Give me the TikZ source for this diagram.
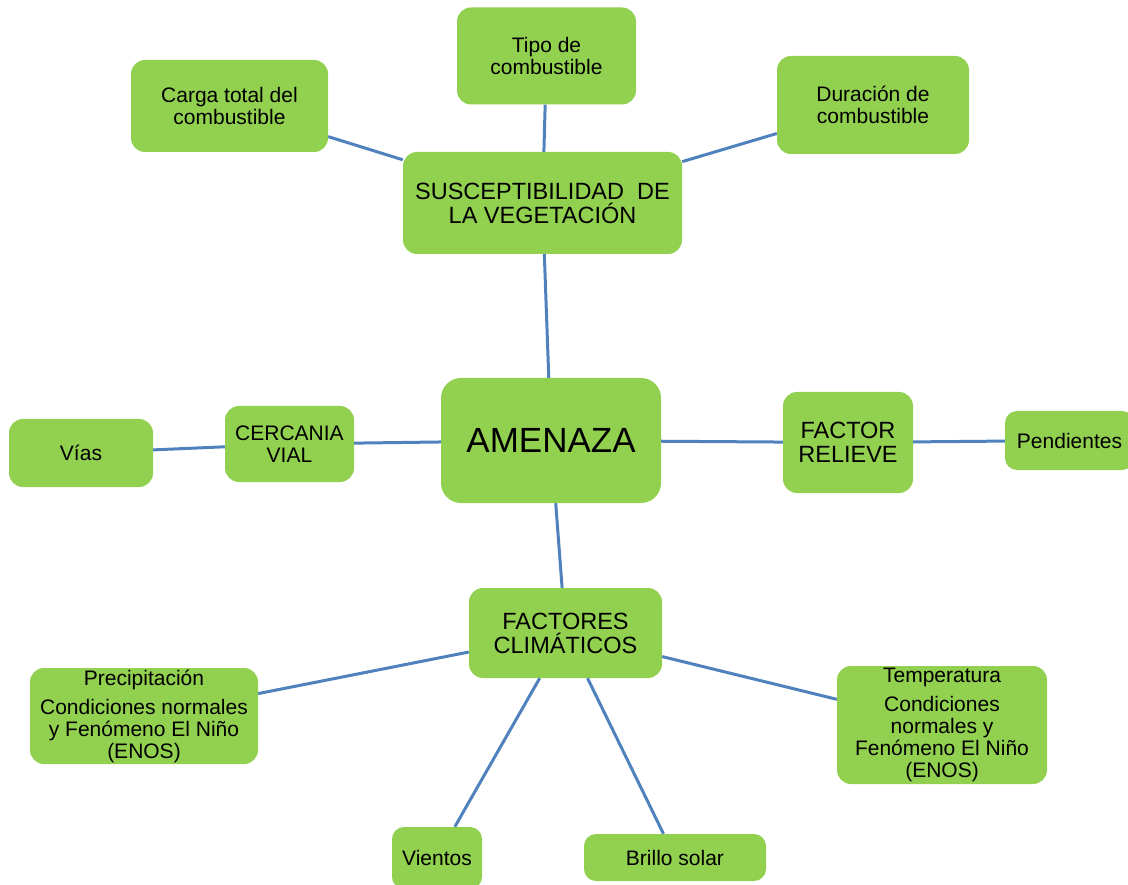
\documentclass[tikz,border=0pt]{standalone}
\usepackage{fontspec}
\setmainfont{Liberation Sans}
\definecolor{verde}{HTML}{92D050}
\definecolor{azul}{HTML}{4F81BD}

\begin{document}
\begin{tikzpicture}[x=1pt,y=-1pt,
            caja/.style={fill=verde,rounded corners=14pt,inner sep=0pt,align=center,font=\fontsize{21}{22}\selectfont},
            titulo/.style={caja,font=\fontsize{23.5}{24}\selectfont},
            enlace/.style={azul,line width=3pt}]
            \useasboundingbox (0,0) rectangle (1128,885);
            \node[caja,minimum width=197pt,minimum height=92pt] (carga) at (229.5,106) {Carga total del\\combustible};
            \node[caja,minimum width=179pt,minimum height=97pt] (tipo) at (546.5,56) {Tipo de\\combustible};
            \node[caja,minimum width=192pt,minimum height=98pt] (duracion) at (873,105) {Duración de\\combustible};
            \node[titulo,minimum width=279pt,minimum height=102pt] (suscep) at (542.5,203) {SUSCEPTIBILIDAD\ \ DE\\LA VEGETACIÓN};
            \node[caja,rounded corners=20pt,minimum width=220pt,minimum height=125pt,font=\fontsize{35}{36}\selectfont] (amenaza) at (551,440.5) {AMENAZA};
            \node[caja,minimum width=129pt,minimum height=76pt] (cercania) at (289.5,444) {CERCANIA\\VIAL};
            \node[caja,minimum width=144pt,minimum height=68pt] (vias) at (81,453) {Vías};
            \node[titulo,minimum width=130pt,minimum height=101pt] (relieve) at (848,442.5) {FACTOR\\RELIEVE};
            \node[caja,rounded corners=12pt,minimum width=129pt,minimum height=59pt] (pendientes) at (1069.5,440.5) {Pendientes};
            \node[titulo,minimum width=193pt,minimum height=90pt] (climaticos) at (565.5,633) {FACTORES\\CLIMÁTICOS};
            \node[caja,minimum width=228pt,minimum height=96pt] (precipitacion) at (144,716) {Precipitación\\[7pt]Condiciones normales\\y Fenómeno El Niño\\(ENOS)};
            \node[caja,minimum width=210pt,minimum height=118pt] (temperatura) at (942,725) {Temperatura\\[7pt]Condiciones\\normales y\\Fenómeno El Niño\\(ENOS)};
            \node[caja,rounded corners=12pt,minimum width=90pt,minimum height=62pt] (vientos) at (437,858) {Vientos};
            \node[caja,rounded corners=12pt,minimum width=182pt,minimum height=47pt] (brillo) at (675,857.5) {Brillo solar};
            % conectores
            \draw[enlace] (carga)--(suscep);
            \draw[enlace] (tipo)--(suscep);
            \draw[enlace] (duracion)--(suscep);
            \draw[enlace] (suscep)--(amenaza);
            \draw[enlace] (vias)--(cercania);
            \draw[enlace] (cercania)--(amenaza);
            \draw[enlace] (amenaza)--(relieve);
            \draw[enlace] (relieve)--(pendientes);
            \draw[enlace] (amenaza)--(climaticos);
            \draw[enlace] (climaticos)--(precipitacion);
            \draw[enlace] (climaticos)--(temperatura);
            \draw[enlace] (climaticos)--(vientos);
            \draw[enlace] (climaticos)--(brillo);
        \end{tikzpicture}
\end{document}
